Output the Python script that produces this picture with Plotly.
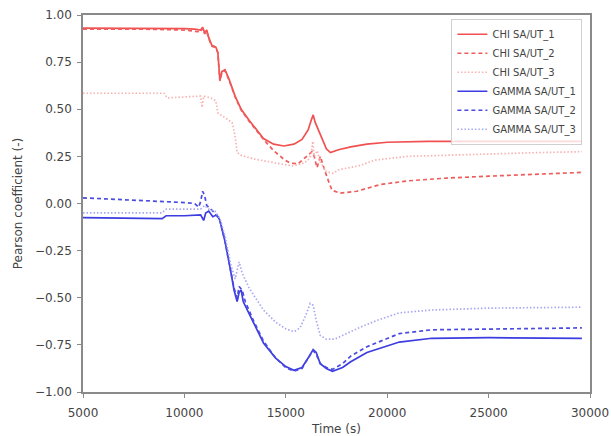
import plotly.graph_objects as go

# ---- data ----
chi1_t = [5000, 8000, 10000, 10500, 10800, 10900, 11000, 11100, 11200, 11350, 11550, 11650, 11750, 11850, 12000, 12200, 12500, 12800, 13200, 13900, 14400, 14900, 15400, 15800, 16100, 16250, 16350, 16450, 16600, 16800, 17000, 17200, 17600, 18200, 19000, 20000, 22000, 25000, 27500, 29600]
chi1_y = [0.93, 0.93, 0.928, 0.925, 0.92, 0.935, 0.905, 0.92, 0.88, 0.84, 0.83, 0.80, 0.655, 0.70, 0.71, 0.66, 0.57, 0.50, 0.44, 0.345, 0.315, 0.305, 0.315, 0.34, 0.39, 0.44, 0.47, 0.43, 0.39, 0.345, 0.29, 0.27, 0.285, 0.30, 0.315, 0.325, 0.33, 0.33, 0.33, 0.33]

chi2_t = [5000, 8000, 10000, 10500, 10800, 10900, 11000, 11100, 11200, 11350, 11550, 11650, 11750, 11850, 12000, 12200, 12500, 12800, 13200, 13900, 14400, 14900, 15200, 15600, 16050, 16290, 16400, 16540, 16700, 17030, 17280, 17670, 18500, 19640, 21000, 22950, 25000, 27500, 29600]
chi2_y = [0.925, 0.925, 0.92, 0.915, 0.91, 0.93, 0.90, 0.915, 0.875, 0.835, 0.825, 0.80, 0.65, 0.695, 0.705, 0.655, 0.565, 0.495, 0.435, 0.34, 0.28, 0.235, 0.215, 0.21, 0.25, 0.275, 0.25, 0.19, 0.25, 0.14, 0.07, 0.055, 0.065, 0.10, 0.12, 0.135, 0.145, 0.155, 0.165]

chi3_t = [5000, 9000, 9150, 10000, 10800, 10870, 10950, 11300, 11550, 11650, 11800, 12100, 12350, 12500, 12600, 12800, 13500, 14500, 15300, 15800, 16100, 16250, 16330, 16400, 16550, 16700, 17000, 17300, 17650, 18600, 19400, 21000, 22950, 25000, 27500, 29600]
chi3_y = [0.585, 0.585, 0.56, 0.565, 0.57, 0.51, 0.57, 0.56, 0.545, 0.48, 0.47, 0.45, 0.43, 0.36, 0.27, 0.255, 0.235, 0.215, 0.20, 0.21, 0.23, 0.26, 0.33, 0.25, 0.28, 0.22, 0.17, 0.16, 0.18, 0.20, 0.23, 0.25, 0.257, 0.265, 0.27, 0.275]

gam1_t = [5000, 8900, 9100, 10000, 10800, 10950, 11050, 11200, 11400, 11600, 11750, 12000, 12250, 12450, 12600, 12700, 12800, 12900, 13400, 13900, 14500, 15000, 15400, 15800, 16100, 16350, 16500, 16700, 17000, 17300, 17800, 18200, 19000, 20600, 22200, 25000, 29600]
gam1_y = [-0.075, -0.08, -0.065, -0.065, -0.06, -0.09, -0.05, -0.04, -0.07, -0.06, -0.09, -0.20, -0.34, -0.46, -0.52, -0.47, -0.46, -0.52, -0.63, -0.74, -0.82, -0.865, -0.885, -0.87, -0.82, -0.775, -0.79, -0.85, -0.875, -0.89, -0.87, -0.84, -0.79, -0.735, -0.715, -0.712, -0.715]

gam2_t = [5000, 7000, 9000, 10000, 10500, 10700, 10800, 10900, 11000, 11100, 11300, 11500, 11750, 12000, 12250, 12450, 12600, 12700, 12850, 13000, 13400, 13900, 14500, 15000, 15400, 15800, 16100, 16350, 16500, 16700, 17000, 17300, 17800, 18200, 19000, 20600, 22200, 25000, 29600]
gam2_y = [0.03, 0.02, 0.012, 0.005, 0.0, -0.02, 0.01, 0.065, 0.04, -0.01, -0.03, -0.05, -0.09, -0.20, -0.34, -0.45, -0.50, -0.44, -0.46, -0.52, -0.62, -0.73, -0.82, -0.87, -0.89, -0.875, -0.82, -0.78, -0.80, -0.85, -0.87, -0.88, -0.85, -0.81, -0.76, -0.69, -0.67, -0.665, -0.66]

gam3_t = [5000, 8900, 9100, 10800, 11000, 11200, 11500, 11750, 12000, 12300, 12500, 12650, 12700, 12850, 13200, 13900, 14500, 15000, 15400, 15700, 16000, 16200, 16350, 16500, 16700, 17000, 17400, 18000, 18700, 19500, 20600, 22200, 25000, 29600]
gam3_y = [-0.05, -0.05, -0.03, -0.03, -0.01, -0.03, -0.04, -0.08, -0.17, -0.33, -0.40, -0.32, -0.31, -0.37, -0.45, -0.565, -0.63, -0.665, -0.68, -0.66, -0.59, -0.53, -0.54, -0.62, -0.70, -0.72, -0.72, -0.69, -0.655, -0.62, -0.58, -0.565, -0.555, -0.55]

x_ticks = [5000, 10000, 15000, 20000, 25000, 30000]
y_ticks = [-1, -0.75, -0.5, -0.25, 0, 0.25, 0.5, 0.75, 1]

names = ["CHI SA/UT_1", "CHI SA/UT_2", "CHI SA/UT_3",
         "GAMMA SA/UT_1", "GAMMA SA/UT_2", "GAMMA SA/UT_3"]
series = [(chi1_t, chi1_y), (chi2_t, chi2_y), (chi3_t, chi3_y),
          (gam1_t, gam1_y), (gam2_t, gam2_y), (gam3_t, gam3_y)]
colors = ["rgb(240,80,80)", "rgb(238,92,92)", "rgb(248,178,178)",
          "rgb(60,60,224)", "rgb(75,75,226)", "rgb(168,168,242)"]
dashes = ["solid", "4px,3px", "1.5px,2px", "solid", "4px,3px", "1.5px,2px"]

fig = go.Figure()
for (t, y), n, c, d in zip(series, names, colors, dashes):
    fig.add_trace(go.Scatter(x=t, y=y, mode="lines", name=n,
                             line=dict(color=c, width=1.7, dash=d)))

axis_common = dict(showline=True, linecolor="#8a8a8a", linewidth=1.5, mirror=True,
                   ticks="outside", ticklen=4, tickcolor="#8a8a8a", showgrid=False,
                   zeroline=False, automargin=False,
                   tickfont=dict(family="DejaVu Sans", size=12, color="#444"))

fig.update_layout(
    width=611, height=436,
    margin=dict(l=83, r=21, t=15, b=44),
    paper_bgcolor="white", plot_bgcolor="white",
    font=dict(family="DejaVu Sans", color="#444"),
    xaxis=dict(range=[5000, 30000], tickvals=x_ticks, tickformat="d", ticklabelstandoff=5,
               title=dict(text="Time (s)", font=dict(size=12), standoff=6), **axis_common),
    yaxis=dict(range=[-1, 1], tickvals=y_ticks, tickformat=".2f", ticklabelstandoff=3,
               title=dict(text="Pearson coefficient (-)", font=dict(size=12), standoff=10), **axis_common),
    legend=dict(x=0.985, y=0.99, xanchor="right", yanchor="top",
                bgcolor="rgba(255,255,255,0.8)", bordercolor="#d0d0d0", borderwidth=1,
                font=dict(family="DejaVu Sans", size=10, color="#444"),
                itemwidth=30, tracegroupgap=0),
)

fig.write_html("out.html")
